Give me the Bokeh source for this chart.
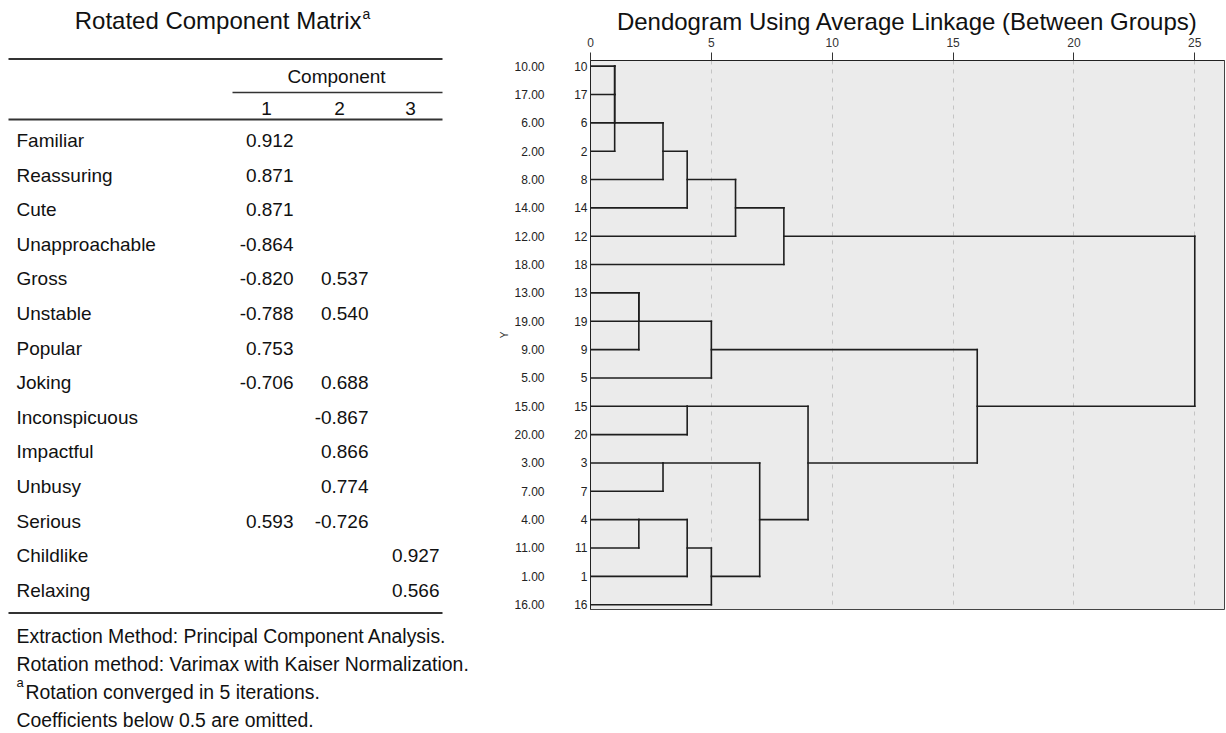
from bokeh.plotting import figure
from bokeh.layouts import row
from bokeh.models import ColumnDataSource, Range1d, LinearAxis, FixedTicker
from bokeh.core.properties import value
from bokeh.embed import file_html
from bokeh.resources import INLINE

FONT = "Liberation Sans"

# ---------------- table data ----------------
table_title = "Rotated Component Matrix"
table_title_sup = "a"
header_group = "Component"
component_labels = ["1", "2", "3"]
variables = ["Familiar", "Reassuring", "Cute", "Unapproachable", "Gross", "Unstable",
             "Popular", "Joking", "Inconspicuous", "Impactful", "Unbusy", "Serious",
             "Childlike", "Relaxing"]
comp1 = [0.912, 0.871, 0.871, -0.864, -0.820, -0.788, 0.753, -0.706, None, None, None, 0.593, None, None]
comp2 = [None, None, None, None, 0.537, 0.540, None, 0.688, -0.867, 0.866, 0.774, -0.726, None, None]
comp3 = [None, None, None, None, None, None, None, None, None, None, None, None, 0.927, 0.566]
footnotes = ["Extraction Method: Principal Component Analysis.",
             "Rotation method: Varimax with Kaiser Normalization.",
             "Rotation converged in 5 iterations.",
             "Coefficients below 0.5 are omitted."]
footnote_sup = ["", "", "a", ""]

# ---------------- dendrogram data ----------------
dendro_title = "Dendogram Using Average Linkage (Between Groups)"
leaf_cases = ["10", "17", "6", "2", "8", "14", "12", "18", "13", "19",
              "9", "5", "15", "20", "3", "7", "4", "11", "1", "16"]
leaf_values = ["10.00", "17.00", "6.00", "2.00", "8.00", "14.00", "12.00", "18.00", "13.00", "19.00",
               "9.00", "5.00", "15.00", "20.00", "3.00", "7.00", "4.00", "11.00", "1.00", "16.00"]
# agglomeration steps: cluster a + cluster b at rescaled distance (m<k> = result of step k)
merge_a = ["10", "m0", "m1", "13", "m3", "4", "m2", "3", "m6", "15",
           "m5", "m4", "m10", "m8", "m7", "m13", "m9", "m11", "m15"]
merge_b = ["17", "6", "2", "19", "9", "11", "8", "7", "14", "20",
           "1", "5", "16", "12", "m12", "18", "m14", "m16", "m17"]
merge_dist = [1, 1, 1, 2, 2, 2, 3, 3, 4, 4,
              4, 5, 5, 6, 7, 8, 9, 16, 25]
distance_ticks = [0, 5, 10, 15, 20, 25]

# ================= table figure =================
TW, TH = 478, 733
pt = figure(width=TW, height=TH, x_range=Range1d(0, TW), y_range=Range1d(TH, 0),
            output_backend="svg", toolbar_location=None, x_axis_type=None, y_axis_type=None,
            min_border=0, outline_line_color=None)
pt.frame_align = False
pt.background_fill_color = "white"
pt.border_fill_color = "white"


def add_text(p, xs, ys, texts, size, align="left", baseline="middle", color="#111111"):
    src = ColumnDataSource(dict(x=xs, y=ys, t=texts))
    p.text("x", "y", text="t", source=src, text_font=value(FONT), text_font_size=size,
           text_align=align, text_baseline=baseline, text_color=color)


# title
add_text(pt, [361], [20], [table_title], "24px", align="right")
add_text(pt, [362], [13], [table_title_sup], "14px", align="left")

# rules
rule_x0 = [8, 232, 8, 8]
rule_x1 = [442, 442, 442, 442]
rule_y = [58.5, 92, 119, 612.5]
rule_w = [2, 1.5, 2, 2]
pt.segment(x0=rule_x0, y0=rule_y, x1=rule_x1, y1=rule_y, line_width=rule_w, line_color="#333333")

# headers
col_center = [266, 339, 410]
col_right = [293, 368, 439]
add_text(pt, [336], [76], [header_group], "19px", align="center")
add_text(pt, col_center, [108] * 3, component_labels, "19px", align="center")

# body
row_y = [140 + i * 34.6 for i in range(len(variables))]
add_text(pt, [16] * len(variables), row_y, variables, "19px")
vx, vy, vt = [], [], []
for c, comp in enumerate([comp1, comp2, comp3]):
    for i, v in enumerate(comp):
        if v is not None:
            vx.append(col_right[c]); vy.append(row_y[i]); vt.append(f"{v:.3f}")
add_text(pt, vx, vy, vt, "19px", align="right")

# footnotes
fy = [635, 663, 691, 719]
fx = [16 if s == "" else 25 for s in footnote_sup]
add_text(pt, fx, fy, footnotes, "19.4px")
sx = [16 for s in footnote_sup if s]
sy = [fy[i] - 9 for i, s in enumerate(footnote_sup) if s]
add_text(pt, sx, sy, [s for s in footnote_sup if s], "13px")

# ================= dendrogram figure =================
DW, DH = 747, 620
pdn = figure(width=DW, height=DH, x_range=Range1d(0, 26.23), y_range=Range1d(19.17, -0.2),
             output_backend="svg", toolbar_location=None, x_axis_location="above",
             y_axis_location=None, min_border_left=112, min_border_right=1,
             min_border_top=60, min_border_bottom=11, title=dendro_title)
pdn.frame_align = False
pdn.title.align = "center"
pdn.title.text_font = FONT
pdn.title.text_font_size = "24px"
pdn.title.text_font_style = "normal"
pdn.title.text_color = "#111111"
pdn.title.standoff = 0
pdn.background_fill_color = "#ebebeb"
pdn.border_fill_color = "white"
pdn.outline_line_color = "#444444"

xt = FixedTicker(ticks=distance_ticks)
ax = pdn.xaxis[0]
ax.ticker = xt
ax.major_tick_out = 8
ax.major_tick_in = 0
ax.minor_tick_line_color = None
ax.major_tick_line_color = "#333333"
ax.axis_line_color = "#222222"
ax.major_label_text_font = FONT
ax.major_label_text_font_size = "12px"
ax.major_label_text_color = "#333333"
ax.major_label_standoff = 6

pdn.xgrid.ticker = xt
pdn.xgrid.grid_line_color = "#c4c4c4"
pdn.xgrid.grid_line_dash = "4 5"
pdn.ygrid.visible = False

yt = FixedTicker(ticks=list(range(len(leaf_cases))))
inner = LinearAxis(ticker=yt, major_label_overrides={i: s for i, s in enumerate(leaf_cases)},
                   major_tick_in=0, major_tick_out=0, major_tick_line_color=None,
                   minor_tick_line_color=None, axis_line_color="#222222",
                   major_label_standoff=3, major_label_text_font=FONT,
                   major_label_text_font_size="12px", major_label_text_color="#222222")
outer = LinearAxis(ticker=yt, major_label_overrides={i: s for i, s in enumerate(leaf_values)},
                   major_tick_in=0, major_tick_out=0, major_tick_line_color=None,
                   minor_tick_line_color=None, axis_line_color=None,
                   major_label_standoff=27, major_label_text_font=FONT,
                   major_label_text_font_size="12px", major_label_text_color="#222222",
                   axis_label="Y", axis_label_standoff=1, axis_label_text_font=FONT,
                   axis_label_text_font_size="10px", axis_label_text_font_style="normal",
                   axis_label_text_color="#333333")
pdn.add_layout(inner, "left")
pdn.add_layout(outer, "left")

# dendrogram links from the agglomeration schedule
row_of = {c: i for i, c in enumerate(leaf_cases)}
height = {c: 0.0 for c in leaf_cases}
hx0, hx1, hy = [], [], []
vxs, vy0, vy1 = [], [], []
for k, (a, b, d) in enumerate(zip(merge_a, merge_b, merge_dist)):
    ra, rb = row_of[a], row_of[b]
    for c in (a, b):
        hx0.append(height[c]); hx1.append(d); hy.append(row_of[c])
    vxs.append(d); vy0.append(min(ra, rb)); vy1.append(max(ra, rb))
    name = f"m{k}"
    row_of[name] = (ra + rb) // 2
    height[name] = d

pdn.segment(x0=hx0, y0=hy, x1=hx1, y1=hy, line_width=1.6, line_color="#1e1e1e", line_cap="square")
pdn.segment(x0=vxs, y0=vy0, x1=vxs, y1=vy1, line_width=1.6, line_color="#1e1e1e", line_cap="square")

layout = row(pt, pdn)
open("out.html", "w").write(file_html(layout, INLINE))
